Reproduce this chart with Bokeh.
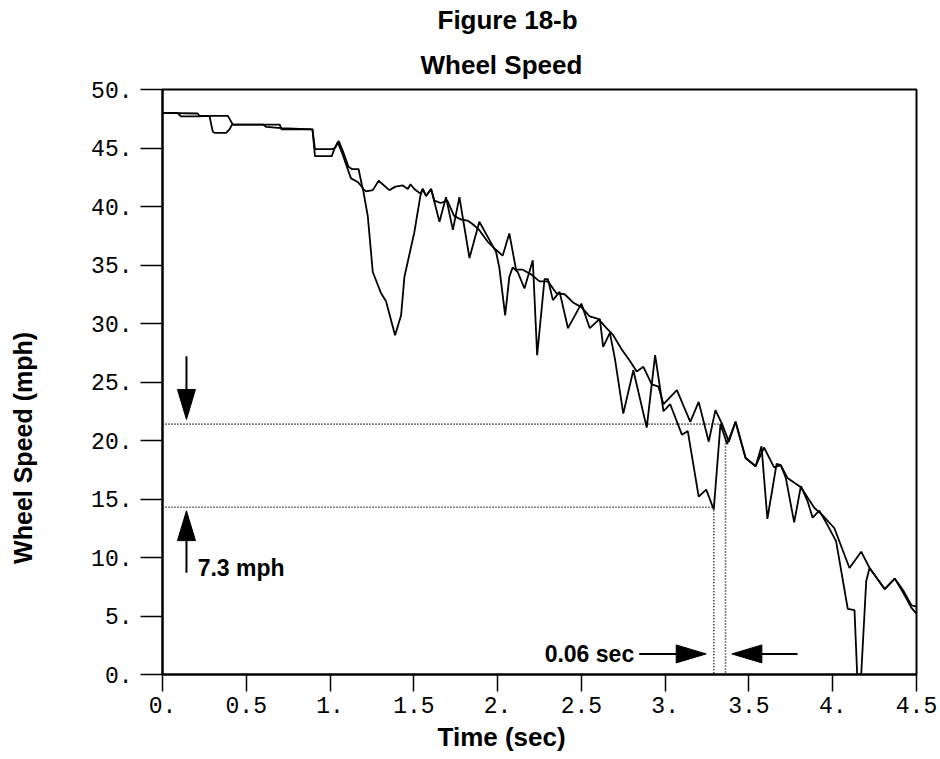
import math
from bokeh.plotting import figure
from bokeh.layouts import row
from bokeh.models import Range1d, FixedTicker, Title
from bokeh.embed import file_html
from bokeh.resources import INLINE
from bokeh.core.properties import value

# ---- data ----
time_a = [0.00, 0.09, 0.11, 0.21, 0.28, 0.30, 0.31, 0.38, 0.40, 0.415, 0.60, 0.62, 0.71, 0.895,
          0.91, 1.01, 1.025, 1.046, 1.076, 1.105, 1.125, 1.165, 1.195, 1.225, 1.255, 1.304, 1.334,
          1.388, 1.424, 1.444, 1.503, 1.539, 1.553, 1.573, 1.603, 1.653, 1.692, 1.733, 1.772,
          1.832, 1.891, 1.941, 1.991, 2.01, 2.045, 2.07, 2.09, 2.12, 2.16, 2.21, 2.236, 2.28,
          2.30, 2.33, 2.37, 2.42, 2.50, 2.55, 2.61, 2.63, 2.67, 2.70, 2.75, 2.81, 2.89, 2.94,
          2.99, 3.03, 3.10, 3.135, 3.20, 3.245, 3.29, 3.33, 3.37, 3.42, 3.48, 3.54, 3.575, 3.61,
          3.665, 3.69, 3.72, 3.77, 3.81, 3.85, 3.88, 3.92, 3.96, 4.02, 4.09, 4.13, 4.146, 4.17,
          4.20, 4.22, 4.31, 4.37, 4.42, 4.47, 4.50]
speed_a = [48.0, 48.0, 47.7, 47.7, 47.75, 46.4, 46.3, 46.3, 46.6, 47.0, 47.0, 46.8, 46.7, 46.6,
           44.3, 44.3, 44.9, 45.5, 44.4, 43.2, 42.4, 42.1, 41.6, 39.2, 34.4, 32.6, 31.9,
           29.0, 30.7, 34.0, 37.8, 40.9, 41.5, 40.9, 41.5, 38.7, 40.8, 38.0, 40.8,
           35.6, 38.7, 37.4, 36.1, 34.8, 30.7, 34.0, 34.8, 34.4, 33.0, 35.4, 27.3, 33.8,
           33.8, 32.0, 32.7, 29.6, 31.7, 29.6, 30.4, 28.0, 29.2, 27.0, 22.3, 26.0, 21.1, 27.3,
           22.5, 23.1, 20.5, 20.8, 15.2, 15.8, 14.1, 21.4, 19.7, 21.6, 18.5, 17.8, 19.5, 13.3,
           18.0, 17.9, 16.8, 13.0, 16.1, 14.8, 13.4, 14.0, 13.0, 11.4, 5.6, 5.5, 0.0, 0.0,
           8.0, 9.1, 7.3, 8.2, 7.0, 5.7, 5.2]

time_b = [0.00, 0.21, 0.22, 0.39, 0.42, 0.70, 0.71, 0.895, 0.91, 1.01, 1.03, 1.052, 1.08, 1.11,
          1.13, 1.17, 1.195, 1.215, 1.255, 1.29, 1.354, 1.39, 1.434, 1.464, 1.48, 1.503, 1.539,
          1.553, 1.573, 1.603, 1.623, 1.66, 1.70, 1.74, 1.78, 1.82, 1.85, 1.89, 1.94, 1.99,
          2.03, 2.07, 2.11, 2.15, 2.20, 2.25, 2.30, 2.35, 2.40, 2.45, 2.50, 2.55, 2.60, 2.65,
          2.69, 2.74, 2.79, 2.83, 2.87, 2.92, 2.96, 2.99, 3.07, 3.15, 3.20, 3.26, 3.30, 3.34,
          3.38, 3.42, 3.48, 3.54, 3.59, 3.65, 3.69, 3.73, 3.81, 3.89, 3.94, 4.01, 4.10, 4.17,
          4.22, 4.31, 4.37, 4.42, 4.47, 4.50]
speed_b = [48.0, 47.95, 47.75, 47.75, 47.0, 47.0, 46.6, 46.6, 44.9, 44.9, 45.0, 45.6, 44.6, 43.4,
           43.2, 43.2, 41.5, 41.3, 41.4, 42.2, 41.4, 41.7, 41.8, 41.5, 41.9, 41.5, 41.1,
           41.5, 40.9, 41.5, 40.5, 40.3, 40.5, 39.2, 38.9, 38.8, 38.5, 38.0, 37.0, 36.3,
           35.8, 37.7, 34.6, 34.6, 34.2, 33.6, 33.6, 32.6, 32.5, 31.8, 31.4, 30.6, 30.4, 29.6,
           29.0, 27.8, 26.8, 25.9, 26.3, 24.8, 24.6, 23.1, 24.3, 21.6, 23.3, 19.9, 22.6, 21.4,
           19.9, 21.6, 18.5, 17.8, 19.4, 17.7, 17.9, 16.8, 16.0, 14.25, 13.6, 12.5, 9.1, 10.5,
           9.1, 7.3, 8.2, 7.2, 5.9, 5.8]

x_ticks = [0, 0.5, 1, 1.5, 2, 2.5, 3, 3.5, 4, 4.5]
x_tick_labels = ["0.", "0.5", "1.", "1.5", "2.", "2.5", "3.", "3.5", "4.", "4.5"]
y_ticks = [0, 5, 10, 15, 20, 25, 30, 35, 40, 45, 50]
y_tick_labels = ["0.", "5.", "10.", "15.", "20.", "25.", "30.", "35.", "40.", "45.", "50."]
y_title = "Wheel Speed (mph)"

# annotation values
level_high = 21.4          # mph
level_low = 14.3           # mph
level_high_end = 3.34      # sec
level_low_end = 3.29       # sec
mark_t1 = 3.29             # sec
mark_t2 = 3.36             # sec
mark_t2_top = 20.0         # mph
speed_arrow_t = 0.143      # sec
speed_arrow_down = (27.2, 21.8)   # tail, tip (mph)
speed_arrow_up = (8.7, 14.0)      # tail, tip (mph)
time_arrow_v = 1.76               # mph
time_arrow_right = (2.845, 3.245) # tail, tip (sec)
time_arrow_left = (3.79, 3.398)   # tail, tip (sec)
speed_text = "7.3 mph"
speed_text_pos = (0.21, 9.1)
time_text = "0.06 sec"
time_text_pos = (2.815, 1.76)

X_MAX, Y_MAX = 4.5, 50
H = 759
LABEL_W = 60
W = 940 - LABEL_W
ML, MR, MT, MB = 102, 24, 87, 85
px_t = (W - ML - MR) / X_MAX
px_v = (H - MT - MB) / Y_MAX

BOLD = dict(text_font="Liberation Sans", text_font_style="bold", text_color="black")

# narrow strip that carries the y-axis title, in its own pixel coordinates
lab = figure(width=LABEL_W, height=H, x_range=Range1d(0, LABEL_W), y_range=Range1d(0, H),
             output_backend="svg", toolbar_location=None, x_axis_type=None, y_axis_type=None,
             min_border_left=0, min_border_right=0, min_border_top=0, min_border_bottom=0,
             background_fill_color="white", border_fill_color="white")
lab.outline_line_color = None
lab.xgrid.visible = False
lab.ygrid.visible = False
lab.text(x=[22], y=[H - 465], text=[y_title], angle=math.pi / 2,
         text_font=value("Liberation Sans"), text_font_style="bold", text_font_size="25px",
         text_align="center", text_baseline="middle", text_color="black")

p = figure(width=W, height=H, x_range=Range1d(0, X_MAX), y_range=Range1d(0, Y_MAX),
           output_backend="svg", toolbar_location=None,
           min_border_left=ML, min_border_right=MR, min_border_top=MT, min_border_bottom=MB,
           background_fill_color="white", border_fill_color="white")
p.xgrid.visible = False
p.ygrid.visible = False
p.outline_line_color = "black"
p.outline_line_width = 2

p.title.text = "Figure 18-b"
p.title.text_font = "Liberation Sans"
p.title.text_font_style = "bold"
p.title.text_font_size = "26px"
p.title.text_color = "black"
p.title.align = "left"
p.title.offset = 275
p.title.standoff = 5
p.add_layout(Title(text="Wheel Speed", text_font_size="26px", align="left", offset=258,
                   standoff=20, **BOLD), "above")

TICK_FONT = "Liberation Mono"
for ax in (p.xaxis[0], p.yaxis[0]):
    ax.axis_line_width = 2
    ax.axis_line_color = "black"
    ax.major_tick_line_width = 1.5
    ax.major_tick_line_color = "black"
    ax.major_tick_in = 0
    ax.minor_tick_line_color = None
    ax.major_label_text_font = TICK_FONT
    ax.major_label_text_font_size = "23px"
    ax.major_label_text_color = "black"

p.xaxis.ticker = FixedTicker(ticks=x_ticks)
p.xaxis.major_label_overrides = {t: l for t, l in zip(x_ticks, x_tick_labels)}
p.xaxis.major_tick_out = 17
p.xaxis.major_label_standoff = 5

p.yaxis.ticker = FixedTicker(ticks=y_ticks)
p.yaxis.major_label_overrides = {t: l for t, l in zip(y_ticks, y_tick_labels)}
p.yaxis.major_tick_out = 22
p.yaxis.major_label_standoff = 8

# x-axis title, placed like the reference (left of centre)
p.add_layout(Title(text="Time (sec)", text_font_size="26px", align="left", offset=275,
                   vertical_align="top", standoff=12, **BOLD), "below")

# curves
p.line(time_b, speed_b, line_color="black", line_width=1.8)
p.line(time_a, speed_a, line_color="black", line_width=1.8)

# dotted reference lines
DOT = "1 2"
p.line([0, level_high_end], [level_high, level_high], line_color="black", line_width=1.6, line_dash=DOT)
p.line([0, level_low_end], [level_low, level_low], line_color="black", line_width=1.6, line_dash=DOT)
p.line([mark_t1, mark_t1], [level_low, 0], line_color="black", line_width=1.6, line_dash=DOT)
p.line([mark_t2, mark_t2], [mark_t2_top, 0], line_color="black", line_width=1.6, line_dash=DOT)

# arrows: stem + filled head, head sized in screen pixels
HEAD_L, HEAD_W = 30, 18


def v_arrow(x, tail, tip):
    d = 1 if tip > tail else -1
    base = tip - d * HEAD_L / px_v
    p.line([x, x], [tail, base], line_color="black", line_width=2)
    hw = HEAD_W / 2 / px_t
    p.patch([x - hw, x + hw, x], [base, base, tip], fill_color="black", line_color="black")


def h_arrow(y, tail, tip):
    d = 1 if tip > tail else -1
    base = tip - d * HEAD_L / px_t
    p.line([tail, base], [y, y], line_color="black", line_width=2)
    hh = HEAD_W / 2 / px_v
    p.patch([base, base, tip], [y - hh, y + hh, y], fill_color="black", line_color="black")


v_arrow(speed_arrow_t, *speed_arrow_down)
v_arrow(speed_arrow_t, *speed_arrow_up)
h_arrow(time_arrow_v, *time_arrow_right)
h_arrow(time_arrow_v, *time_arrow_left)

p.text(x=[speed_text_pos[0]], y=[speed_text_pos[1]], text=[speed_text],
       text_font=value("Liberation Sans"), text_font_style="bold", text_font_size="23px",
       text_align="left", text_baseline="middle", text_color="black")
p.text(x=[time_text_pos[0]], y=[time_text_pos[1]], text=[time_text],
       text_font=value("Liberation Sans"), text_font_style="bold", text_font_size="23px",
       text_align="right", text_baseline="middle", text_color="black")

layout = row(lab, p, spacing=0)
open("out.html", "w").write(file_html(layout, INLINE))
